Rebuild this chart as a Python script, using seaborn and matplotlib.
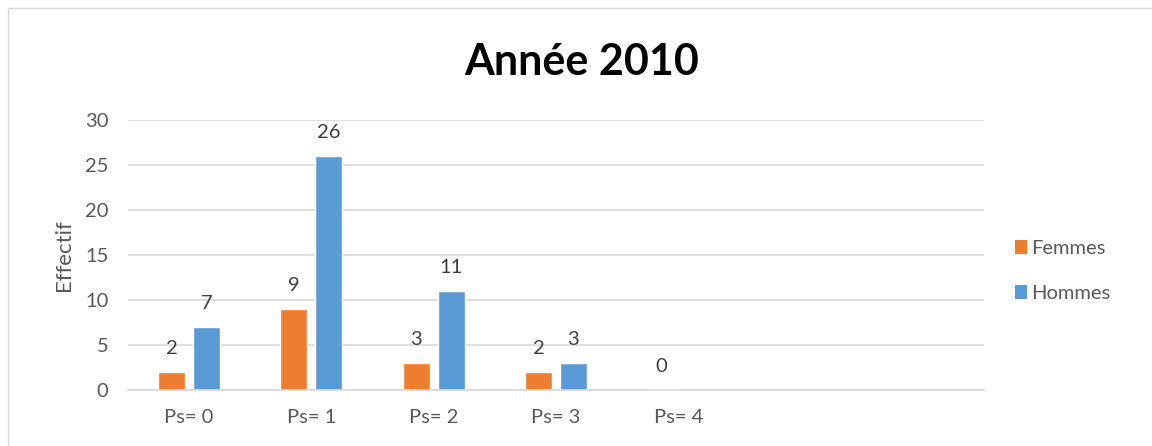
import numpy as np
import pandas as pd
import matplotlib
matplotlib.use("Agg")
import matplotlib.pyplot as plt
import seaborn as sns
from matplotlib.lines import Line2D
from matplotlib.patches import Patch

# chart values
categories = ["Ps= 0", "Ps= 1", "Ps= 2", "Ps= 3", "Ps= 4", "", " "]
femmes = [2, 9, 3, 2, 0, np.nan, np.nan]
hommes = [7, 26, 11, 3, np.nan, np.nan, np.nan]
series = ["Femmes", "Hommes"]
colors = ["#ED7D31", "#5B9BD5"]

df = pd.DataFrame({
    "cat": categories * 2,
    "sexe": ["Femmes"] * len(categories) + ["Hommes"] * len(categories),
    "val": femmes + hommes,
})

sns.set_style("white")
plt.rcParams["font.family"] = ["Lato", "DejaVu Sans"]
txt = "#595959"

fig = plt.figure(figsize=(11.52, 4.46), dpi=100)
ax = fig.add_axes([128 / 1152, 1 - 390 / 446, (984 - 128) / 1152, 270 / 446])

sns.barplot(data=df, x="cat", y="val", hue="sexe", order=categories,
            hue_order=series, palette=colors, width=0.572, gap=0.23,
            saturation=1, legend=False, ax=ax, errorbar=None)

for cont in ax.containers:
    ax.bar_label(cont, fmt="%g", padding=11, fontsize=14.5, color="#404040")

ax.set_xlim(-0.5, len(categories) - 0.5)
ax.set_ylim(0, 30)
ax.set_yticks(range(0, 31, 5))
ax.yaxis.grid(True, color="#D9D9D9", linewidth=1.2)
ax.set_axisbelow(True)
for s in ["top", "right", "left"]:
    ax.spines[s].set_visible(False)
ax.spines["bottom"].set_color("#D9D9D9")
ax.spines["bottom"].set_linewidth(1.2)
ax.tick_params(axis="both", length=0, labelsize=14.5, labelcolor=txt)
ax.tick_params(axis="x", pad=14)
ax.tick_params(axis="y", pad=14)
ax.set_xlabel("")
ax.set_ylabel("Effectif", fontsize=16, color=txt, labelpad=8)

fig.suptitle("Année 2010", x=0.505, y=0.905, fontsize=31, fontweight="bold",
             color="black")

handles = [Patch(facecolor=c, edgecolor="none") for c in colors]
fig.legend(handles, series, loc="center left",
           bbox_to_anchor=(997 / 1152, 1 - 271 / 446), frameon=False,
           fontsize=14.5, labelcolor=txt, handlelength=0.6, handleheight=0.7,
           handletextpad=0.2, labelspacing=1.35)

# outer chart frame
fig.add_artist(Line2D([8 / 1152, 8 / 1152], [0, 1 - 8 / 446],
                      transform=fig.transFigure, color="#D9D9D9", lw=1))
fig.add_artist(Line2D([8 / 1152, 1], [1 - 8 / 446, 1 - 8 / 446],
                      transform=fig.transFigure, color="#D9D9D9", lw=1))

fig.savefig("out.png", dpi=100, facecolor="white")
